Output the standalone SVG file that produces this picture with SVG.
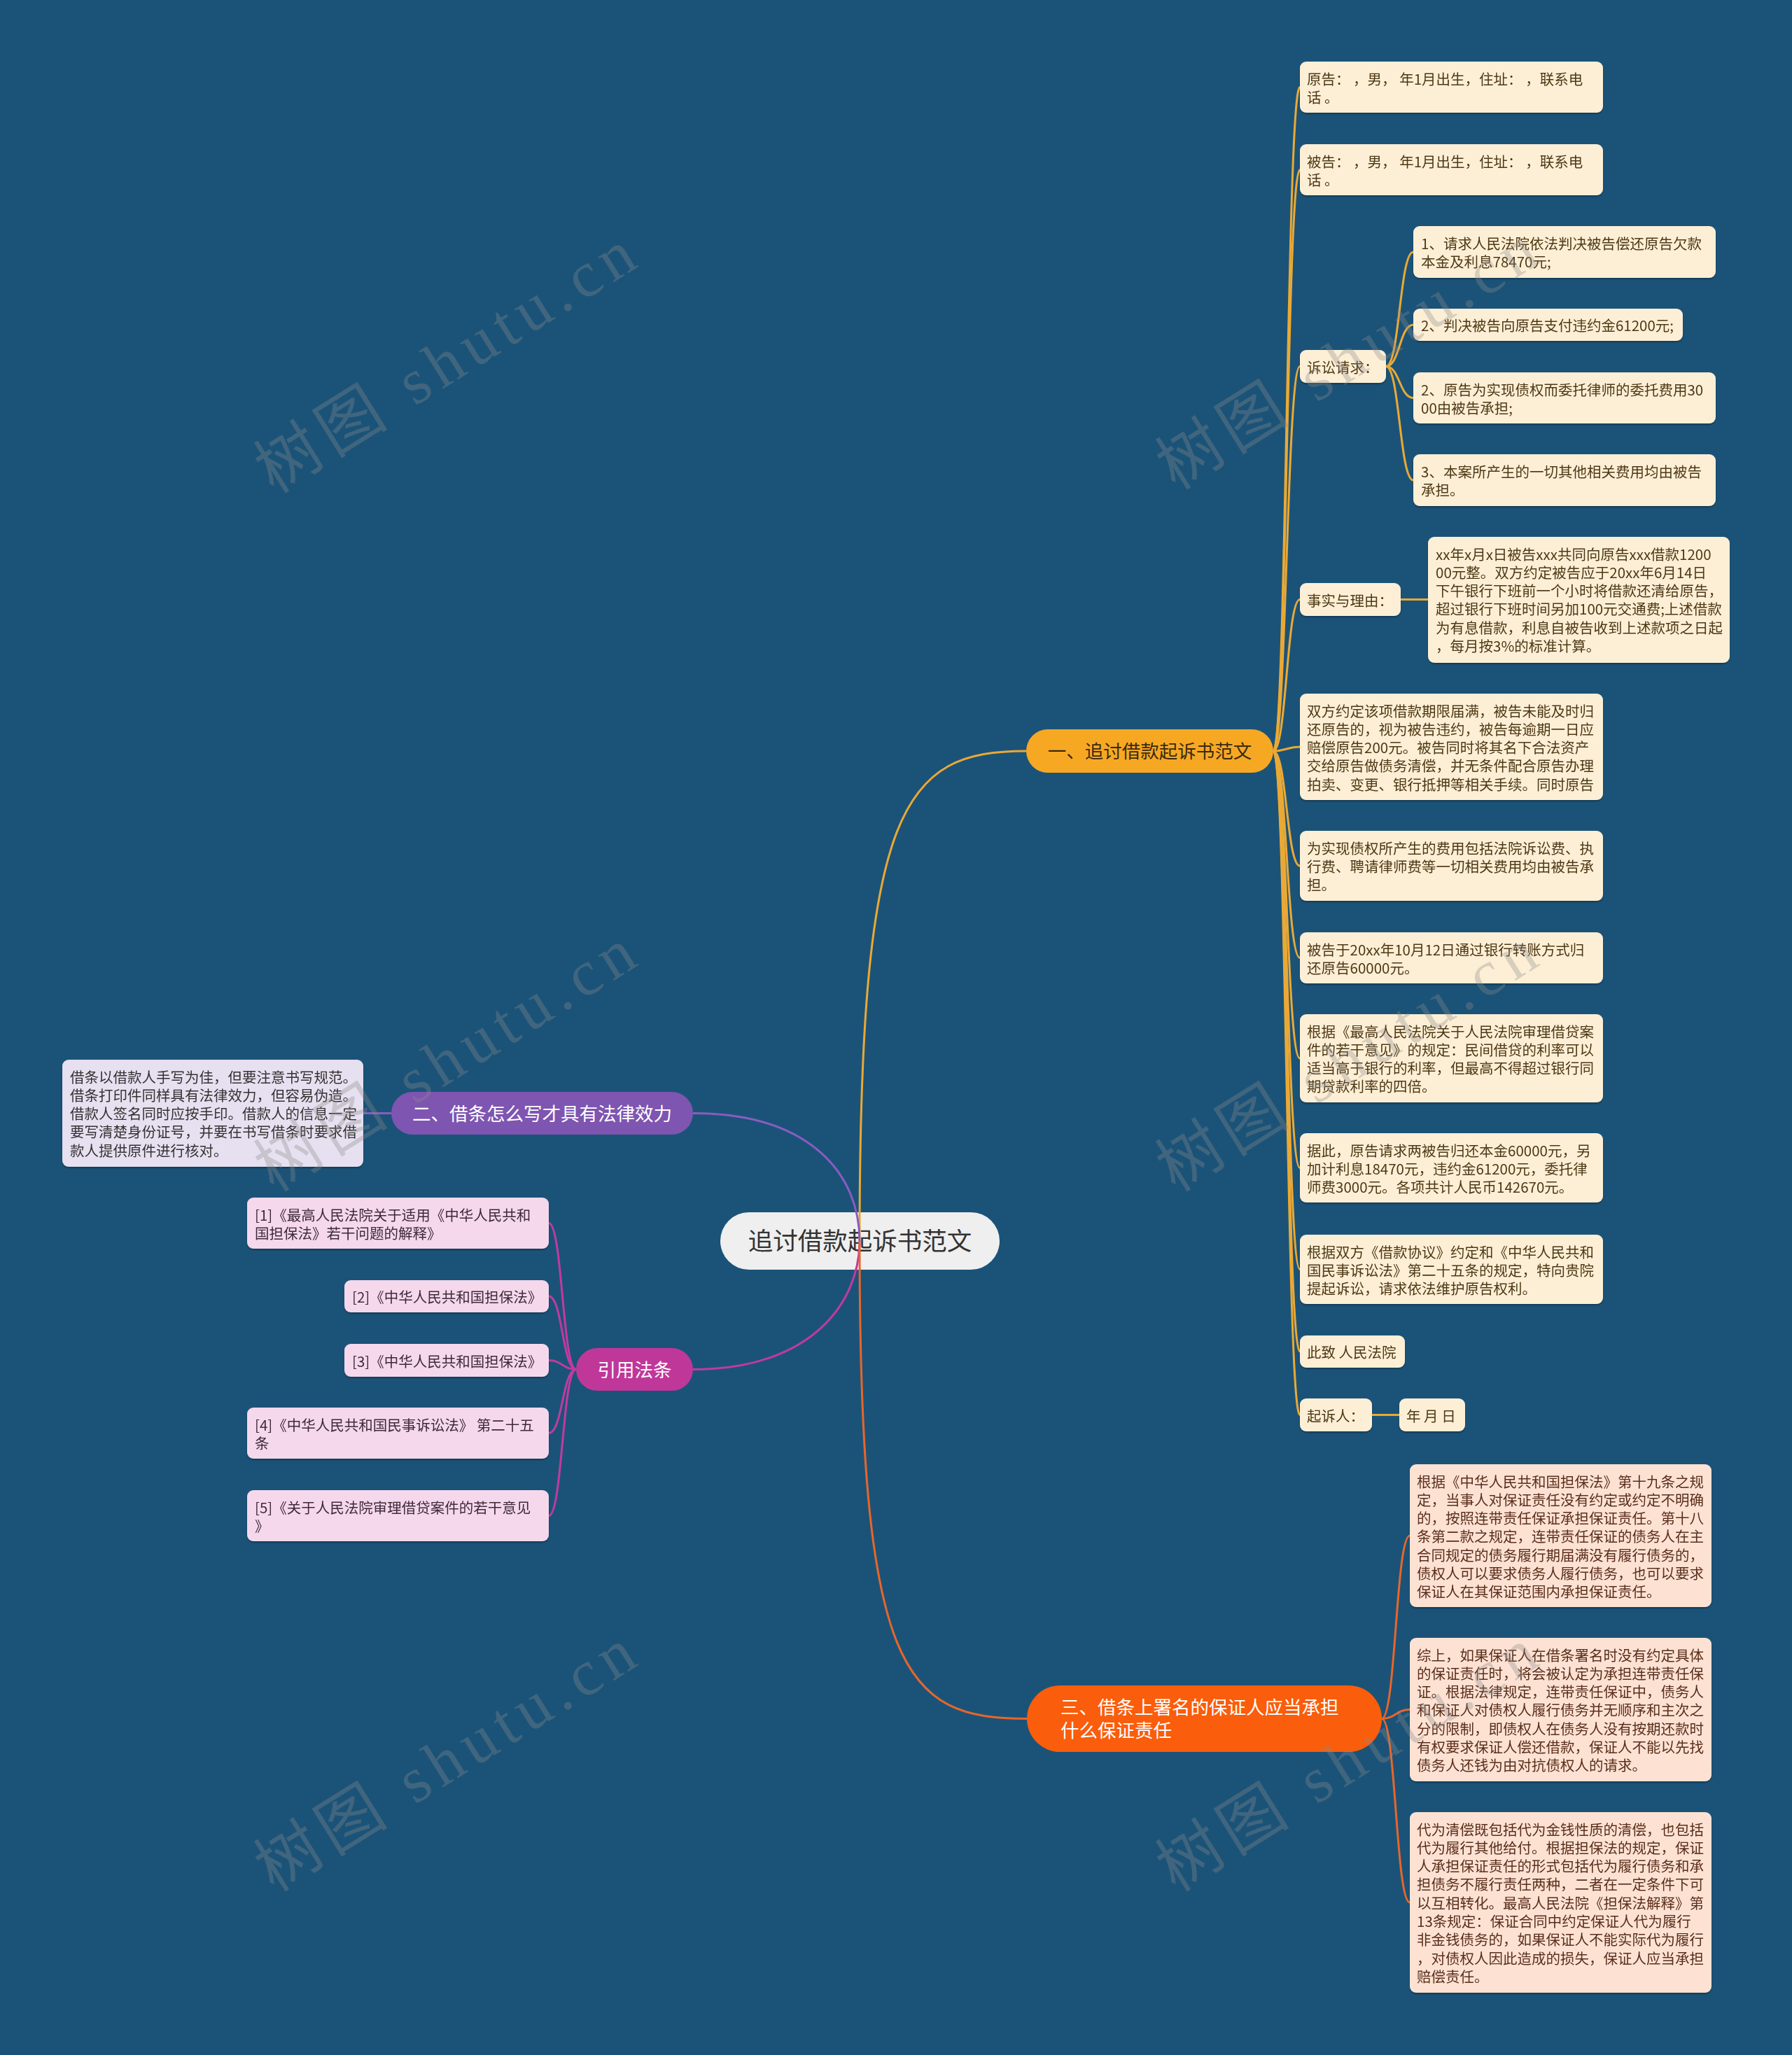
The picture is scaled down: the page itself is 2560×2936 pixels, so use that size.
<svg xmlns="http://www.w3.org/2000/svg" width="2560" height="2936" viewBox="0 0 2560 2936">
<style>
text{font-family:"Noto Sans CJK SC","Noto Sans",sans-serif}
.leaf{font-size:20.5px}
.br{font-size:26.5px}
.c1{stroke:#eaa935;fill:none;stroke-width:3}
.c2{stroke:#8a5cc0;fill:none;stroke-width:3}
.c3{stroke:#c23a9e;fill:none;stroke-width:3}
.c4{stroke:#e8662a;fill:none;stroke-width:3}
.y{fill:#fdefd6}
.yt{fill:#4e3813}
.p{fill:#e6e0f0}
.pt{fill:#333}
.m{fill:#f5d8ec}
.mt{fill:#3d2a38}
.o{fill:#fde2d4}
.ot{fill:#5a2e1a}
.wm{font-family:"Liberation Serif","Noto Sans CJK SC",serif;font-size:92px;fill:#8c8c8c;opacity:.33;letter-spacing:10px}
</style>
<defs>
<filter id="sh" x="-5%" y="-5%" width="110%" height="120%"><feDropShadow dx="0" dy="2" stdDeviation="1" flood-color="#000" flood-opacity="0.3"/></filter>
</defs>
<rect width="2560" height="2936" fill="#1b5378"/>

<g id="root"><rect x="1029" y="1732" width="399" height="82" rx="41" fill="#efefef"/><text x="1228.5" y="1786" font-size="35.5" text-anchor="middle" fill="#333">追讨借款起诉书范文</text></g>

<g id="b1"><rect x="1466" y="1042" width="353" height="62" rx="31" fill="#f7a823"/><text class="br" x="1642.5" y="1083" text-anchor="middle" fill="#3a2a10">一、追讨借款起诉书范文</text></g>
<g id="b2"><rect x="559" y="1560" width="431" height="61" rx="30.5" fill="#7e55b0"/><text class="br" x="774.5" y="1600.5" text-anchor="middle" fill="#fff">二、借条怎么写才具有法律效力</text></g>
<g id="b3"><rect x="823" y="1926" width="167" height="61" rx="30.5" fill="#c0379a"/><text class="br" x="906.5" y="1966.5" text-anchor="middle" fill="#fff">引用法条</text></g>
<g id="b4"><rect x="1467" y="2408" width="507" height="95" rx="47.5" fill="#fa5d0b"/><text class="br" fill="#fff"><tspan x="1515" y="2448.5">三、借条上署名的保证人应当承担</tspan><tspan x="1515" y="2482">什么保证责任</tspan></text></g>

<g id="n-yuangao" filter="url(#sh)"><rect class="y" x="1857" y="88" width="433" height="73" rx="9"/><text class="leaf yt"><tspan x="1867" y="120.5">原告： ，男， 年1月出生，住址： ，联系电</tspan><tspan x="1867" y="146.8">话 。</tspan></text></g>
<g id="n-beigao" filter="url(#sh)"><rect class="y" x="1857" y="206" width="433" height="73" rx="9"/><text class="leaf yt"><tspan x="1867" y="238.5">被告： ，男， 年1月出生，住址： ，联系电</tspan><tspan x="1867" y="264.8">话 。</tspan></text></g>
<g id="n-susong" filter="url(#sh)"><rect class="y" x="1857" y="500" width="123" height="47" rx="9"/><text class="leaf yt" x="1867" y="532.5">诉讼请求：</text></g>
<g id="n-s1" filter="url(#sh)"><rect class="y" x="2019" y="323" width="432" height="74" rx="9"/><text class="leaf yt"><tspan x="2030" y="355.5">1、请求人民法院依法判决被告偿还原告欠款</tspan><tspan x="2030" y="381.8">本金及利息78470元;</tspan></text></g>
<g id="n-s2" filter="url(#sh)"><rect class="y" x="2019" y="441" width="385" height="46" rx="9"/><text class="leaf yt" x="2030" y="473">2、判决被告向原告支付违约金61200元;</text></g>
<g id="n-s3" filter="url(#sh)"><rect class="y" x="2019" y="532" width="432" height="73" rx="9"/><text class="leaf yt"><tspan x="2030" y="564.5">2、原告为实现债权而委托律师的委托费用30</tspan><tspan x="2030" y="590.8">00由被告承担;</tspan></text></g>
<g id="n-s4" filter="url(#sh)"><rect class="y" x="2019" y="649" width="432" height="74" rx="9"/><text class="leaf yt"><tspan x="2030" y="681.5">3、本案所产生的一切其他相关费用均由被告</tspan><tspan x="2030" y="707.8">承担。</tspan></text></g>
<g id="n-shishi" filter="url(#sh)"><rect class="y" x="1857" y="833" width="144" height="47" rx="9"/><text class="leaf yt" x="1867" y="865.5">事实与理由：</text></g>
<g id="n-shishi1" filter="url(#sh)"><rect class="y" x="2040" y="767" width="431" height="180" rx="9"/><text class="leaf yt"><tspan x="2051" y="799.5">xx年x月x日被告xxx共同向原告xxx借款1200</tspan><tspan x="2051" y="825.8">00元整。双方约定被告应于20xx年6月14日</tspan><tspan x="2051" y="852.1">下午银行下班前一个小时将借款还清给原告，</tspan><tspan x="2051" y="878.4">超过银行下班时间另加100元交通费;上述借款</tspan><tspan x="2051" y="904.7">为有息借款，利息自被告收到上述款项之日起</tspan><tspan x="2051" y="931">，每月按3%的标准计算。</tspan></text></g>
<g id="n-shuangfang" filter="url(#sh)"><rect class="y" x="1857" y="991" width="433" height="152" rx="9"/><text class="leaf yt"><tspan x="1867" y="1023.5">双方约定该项借款期限届满，被告未能及时归</tspan><tspan x="1867" y="1049.8">还原告的，视为被告违约，被告每逾期一日应</tspan><tspan x="1867" y="1076.1">赔偿原告200元。被告同时将其名下合法资产</tspan><tspan x="1867" y="1102.4">交给原告做债务清偿，并无条件配合原告办理</tspan><tspan x="1867" y="1128.7">拍卖、变更、银行抵押等相关手续。同时原告</tspan></text></g>
<g id="n-feiyong" filter="url(#sh)"><rect class="y" x="1857" y="1187" width="433" height="100" rx="9"/><text class="leaf yt"><tspan x="1867" y="1219.5">为实现债权所产生的费用包括法院诉讼费、执</tspan><tspan x="1867" y="1245.8">行费、聘请律师费等一切相关费用均由被告承</tspan><tspan x="1867" y="1272.1">担。</tspan></text></g>
<g id="n-guihuan" filter="url(#sh)"><rect class="y" x="1857" y="1332" width="433" height="73" rx="9"/><text class="leaf yt"><tspan x="1867" y="1364.5">被告于20xx年10月12日通过银行转账方式归</tspan><tspan x="1867" y="1390.8">还原告60000元。</tspan></text></g>
<g id="n-genju1" filter="url(#sh)"><rect class="y" x="1857" y="1449" width="433" height="126" rx="9"/><text class="leaf yt"><tspan x="1867" y="1481.5">根据《最高人民法院关于人民法院审理借贷案</tspan><tspan x="1867" y="1507.8">件的若干意见》的规定：民间借贷的利率可以</tspan><tspan x="1867" y="1534.1">适当高于银行的利率，但最高不得超过银行同</tspan><tspan x="1867" y="1560.4">期贷款利率的四倍。</tspan></text></g>
<g id="n-jucì" filter="url(#sh)"><rect class="y" x="1857" y="1619" width="433" height="99" rx="9"/><text class="leaf yt"><tspan x="1867" y="1651.5">据此，原告请求两被告归还本金60000元，另</tspan><tspan x="1867" y="1677.8">加计利息18470元，违约金61200元，委托律</tspan><tspan x="1867" y="1704.1">师费3000元。各项共计人民币142670元。</tspan></text></g>
<g id="n-genju2" filter="url(#sh)"><rect class="y" x="1857" y="1764" width="433" height="99" rx="9"/><text class="leaf yt"><tspan x="1867" y="1796.5">根据双方《借款协议》约定和《中华人民共和</tspan><tspan x="1867" y="1822.8">国民事诉讼法》第二十五条的规定，特向贵院</tspan><tspan x="1867" y="1849.1">提起诉讼，请求依法维护原告权利。</tspan></text></g>
<g id="n-cizhi" filter="url(#sh)"><rect class="y" x="1857" y="1908" width="150" height="46" rx="9"/><text class="leaf yt" x="1867" y="1940">此致 人民法院</text></g>
<g id="n-qisuren" filter="url(#sh)"><rect class="y" x="1857" y="1998" width="103" height="47" rx="9"/><text class="leaf yt" x="1867" y="2030.5">起诉人：</text></g>
<g id="n-riqi" filter="url(#sh)"><rect class="y" x="1999" y="1998" width="94" height="47" rx="9"/><text class="leaf yt" x="2009" y="2030.5">年 月 日</text></g>

<g id="n-jietiao" filter="url(#sh)"><rect class="p" x="89" y="1514" width="430" height="153" rx="9"/><text class="leaf pt"><tspan x="100" y="1546.5">借条以借款人手写为佳，但要注意书写规范。</tspan><tspan x="100" y="1572.8">借条打印件同样具有法律效力，但容易伪造。</tspan><tspan x="100" y="1599.1">借款人签名同时应按手印。借款人的信息一定</tspan><tspan x="100" y="1625.4">要写清楚身份证号，并要在书写借条时要求借</tspan><tspan x="100" y="1651.7">款人提供原件进行核对。</tspan></text></g>

<g id="n-law1" filter="url(#sh)"><rect class="m" x="353" y="1711" width="431" height="73" rx="9"/><text class="leaf mt"><tspan x="364" y="1743.5">[1]《最高人民法院关于适用《中华人民共和</tspan><tspan x="364" y="1769.8">国担保法》若干问题的解释》</tspan></text></g>
<g id="n-law2" filter="url(#sh)"><rect class="m" x="492" y="1829" width="292" height="46" rx="9"/><text class="leaf mt" x="503" y="1861">[2]《中华人民共和国担保法》</text></g>
<g id="n-law3" filter="url(#sh)"><rect class="m" x="492" y="1920" width="292" height="47" rx="9"/><text class="leaf mt" x="503" y="1952.5">[3]《中华人民共和国担保法》</text></g>
<g id="n-law4" filter="url(#sh)"><rect class="m" x="353" y="2011" width="431" height="73" rx="9"/><text class="leaf mt"><tspan x="364" y="2043.5">[4]《中华人民共和国民事诉讼法》 第二十五</tspan><tspan x="364" y="2069.8">条</tspan></text></g>
<g id="n-law5" filter="url(#sh)"><rect class="m" x="353" y="2129" width="431" height="73" rx="9"/><text class="leaf mt"><tspan x="364" y="2161.5">[5]《关于人民法院审理借贷案件的若干意见</tspan><tspan x="364" y="2187.8">》</tspan></text></g>

<g id="n-bz1" filter="url(#sh)"><rect class="o" x="2014" y="2092" width="431" height="204" rx="9"/><text class="leaf ot"><tspan x="2024" y="2124.5">根据《中华人民共和国担保法》第十九条之规</tspan><tspan x="2024" y="2150.8">定，当事人对保证责任没有约定或约定不明确</tspan><tspan x="2024" y="2177.1">的，按照连带责任保证承担保证责任。第十八</tspan><tspan x="2024" y="2203.4">条第二款之规定，连带责任保证的债务人在主</tspan><tspan x="2024" y="2229.7">合同规定的债务履行期届满没有履行债务的，</tspan><tspan x="2024" y="2256">债权人可以要求债务人履行债务，也可以要求</tspan><tspan x="2024" y="2282.3">保证人在其保证范围内承担保证责任。</tspan></text></g>
<g id="n-bz2" filter="url(#sh)"><rect class="o" x="2014" y="2340" width="431" height="205" rx="9"/><text class="leaf ot"><tspan x="2024" y="2372.5">综上，如果保证人在借条署名时没有约定具体</tspan><tspan x="2024" y="2398.8">的保证责任时，将会被认定为承担连带责任保</tspan><tspan x="2024" y="2425.1">证。根据法律规定，连带责任保证中，债务人</tspan><tspan x="2024" y="2451.4">和保证人对债权人履行债务并无顺序和主次之</tspan><tspan x="2024" y="2477.7">分的限制，即债权人在债务人没有按期还款时</tspan><tspan x="2024" y="2504">有权要求保证人偿还借款，保证人不能以先找</tspan><tspan x="2024" y="2530.3">债务人还钱为由对抗债权人的请求。</tspan></text></g>
<g id="n-bz3" filter="url(#sh)"><rect class="o" x="2014" y="2589" width="431" height="258" rx="9"/><text class="leaf ot"><tspan x="2024" y="2621.5">代为清偿既包括代为金钱性质的清偿，也包括</tspan><tspan x="2024" y="2647.8">代为履行其他给付。根据担保法的规定，保证</tspan><tspan x="2024" y="2674.1">人承担保证责任的形式包括代为履行债务和承</tspan><tspan x="2024" y="2700.4">担债务不履行责任两种，二者在一定条件下可</tspan><tspan x="2024" y="2726.7">以互相转化。最高人民法院《担保法解释》第</tspan><tspan x="2024" y="2753">13条规定：保证合同中约定保证人代为履行</tspan><tspan x="2024" y="2779.3">非金钱债务的，如果保证人不能实际代为履行</tspan><tspan x="2024" y="2805.6">，对债权人因此造成的损失，保证人应当承担</tspan><tspan x="2024" y="2831.9">赔偿责任。</tspan></text></g>

<g id="connectors">
<path class="c1" stroke-width="3.5" d="M1228,1773 C1228,1150 1290,1073 1466,1073"/>
<path class="c2" stroke-width="3.5" d="M1228,1773 C1228,1680 1160,1590.5 990,1590.5"/>
<path class="c3" stroke-width="3.5" d="M1228,1773 C1228,1860 1160,1956.5 990,1956.5"/>
<path class="c4" stroke-width="3.5" d="M1228,1773 C1228,2390 1290,2455.5 1467,2455.5"/>
<path class="c1" d="M1819,1073 C1838,1073 1838,124.5 1857,124.5"/>
<path class="c1" d="M1819,1073 C1838,1073 1838,242.5 1857,242.5"/>
<path class="c1" d="M1819,1073 C1838,1073 1838,523.5 1857,523.5"/>
<path class="c1" d="M1819,1073 C1838,1073 1838,856.5 1857,856.5"/>
<path class="c1" d="M1819,1073 C1838,1073 1838,1067 1857,1067"/>
<path class="c1" d="M1819,1073 C1838,1073 1838,1237 1857,1237"/>
<path class="c1" d="M1819,1073 C1838,1073 1838,1368.5 1857,1368.5"/>
<path class="c1" d="M1819,1073 C1838,1073 1838,1512 1857,1512"/>
<path class="c1" d="M1819,1073 C1838,1073 1838,1668.5 1857,1668.5"/>
<path class="c1" d="M1819,1073 C1838,1073 1838,1813.5 1857,1813.5"/>
<path class="c1" d="M1819,1073 C1838,1073 1838,1931 1857,1931"/>
<path class="c1" d="M1819,1073 C1838,1073 1838,2021.5 1857,2021.5"/>
<path class="c1" d="M1980,523.5 C1999.5,523.5 1999.5,360 2019,360"/>
<path class="c1" d="M1980,523.5 C1999.5,523.5 1999.5,464 2019,464"/>
<path class="c1" d="M1980,523.5 C1999.5,523.5 1999.5,568.5 2019,568.5"/>
<path class="c1" d="M1980,523.5 C1999.5,523.5 1999.5,686 2019,686"/>
<path class="c1" d="M2001,856.5 L2040,856.5"/>
<path class="c1" d="M1960,2021.5 L1999,2021.5"/>
<path class="c2" d="M559,1590.5 L519,1590.5"/>
<path class="c3" d="M823,1956.5 C803.5,1956.5 803.5,1747.5 784,1747.5"/>
<path class="c3" d="M823,1956.5 C803.5,1956.5 803.5,1852 784,1852"/>
<path class="c3" d="M823,1956.5 C803.5,1956.5 803.5,1943.5 784,1943.5"/>
<path class="c3" d="M823,1956.5 C803.5,1956.5 803.5,2047.5 784,2047.5"/>
<path class="c3" d="M823,1956.5 C803.5,1956.5 803.5,2165.5 784,2165.5"/>
<path class="c4" d="M1974,2455.5 C1994,2455.5 1994,2194 2014,2194"/>
<path class="c4" d="M1974,2455.5 C1994,2455.5 1994,2442.5 2014,2442.5"/>
<path class="c4" d="M1974,2455.5 C1994,2455.5 1994,2718 2014,2718"/>
</g>

<g id="watermarks">
<text class="wm" x="641" y="545" text-anchor="middle" transform="rotate(-32 641 515)">树图 shutu.cn</text>
<text class="wm" x="641" y="1543" text-anchor="middle" transform="rotate(-32 641 1513)">树图 shutu.cn</text>
<text class="wm" x="641" y="2543" text-anchor="middle" transform="rotate(-32 641 2513)">树图 shutu.cn</text>
<text class="wm" x="1929" y="540" text-anchor="middle" transform="rotate(-32 1929 510)">树图 shutu.cn</text>
<text class="wm" x="1929" y="1543" text-anchor="middle" transform="rotate(-32 1929 1513)">树图 shutu.cn</text>
<text class="wm" x="1929" y="2543" text-anchor="middle" transform="rotate(-32 1929 2513)">树图 shutu.cn</text>
</g>
</svg>
